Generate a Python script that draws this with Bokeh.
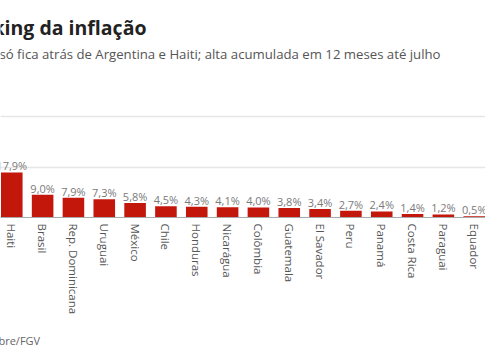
from bokeh.plotting import figure
from bokeh.models import ColumnDataSource, FactorRange, Range1d, Label, FixedTicker, Title
from bokeh.core.properties import value
from bokeh.embed import file_html
from bokeh.resources import INLINE

countries = ["Haiti", "Brasil", "Rep. Dominicana", "Uruguai", "México", "Chile",
             "Honduras", "Nicarágua", "Colômbia", "Guatemala", "El Savador", "Peru",
             "Panamá", "Costa Rica", "Paraguai", "Equador"]
inflation = [17.9, 9.0, 7.9, 7.3, 5.8, 4.5, 4.3, 4.1, 4.0, 3.8, 3.4, 2.7, 2.4, 1.4, 1.2, 0.5]
grid_ticks = [20, 40]
title_text = "Ranking da inflação"
subtitle_text = "Brasil só fica atrás de Argentina e Haiti; alta acumulada em 12 meses até julho"
source_text = "Fonte: Ibre/FGV"

labels = [f"{v:.1f}%".replace(".", ",") for v in inflation]
src = ColumnDataSource(dict(x=countries, top=inflation, label=labels))

x_range = FactorRange(factors=countries, range_padding=-0.134, range_padding_units="absolute")
p = figure(x_range=x_range, y_range=Range1d(0, 86.3), width=485, height=360,
           output_backend="svg", toolbar_location=None, y_axis_location=None,
           min_border_left=0, min_border_right=0, min_border_top=0, min_border_bottom=143,
           margin=0)
p.outline_line_color = None
p.background_fill_color = "white"
p.border_fill_color = "white"
p.xgrid.grid_line_color = None
p.ygrid.ticker = FixedTicker(ticks=grid_ticks)
p.ygrid.grid_line_color = "#e6e6e6"
p.ygrid.grid_line_width = 1.5

p.vbar(x="x", top="top", width=0.7, source=src, fill_color="#c4170c", line_color=None)
p.text(x="x", y="top", text="label", source=src, text_align="center",
       text_baseline="alphabetic", y_offset=-6.5, text_font=value("Open Sans"),
       text_font_size="11px", text_color="#7a7a7a")

ax = p.xaxis[0]
ax.axis_line_color = "#aaaaaa"
ax.axis_line_width = 1
ax.major_tick_line_color = None
ax.minor_tick_line_color = None
ax.major_tick_out = 0
ax.major_tick_in = 0
ax.major_label_standoff = 6
ax.major_label_orientation = "vertical"
ax.major_label_text_font = "Open Sans"
ax.major_label_text_font_size = "11.5px"
ax.major_label_text_color = "#555555"

p.add_layout(Label(x=146, y=190, x_units="screen", y_units="screen", text=title_text,
                   text_align="right", text_baseline="alphabetic", text_font="Open Sans",
                   text_font_style="bold", text_font_size="19.5px", text_color="#222222"))
p.add_layout(Label(x=440, y=164, x_units="screen", y_units="screen", text=subtitle_text,
                   text_align="right", text_baseline="alphabetic", text_font="Open Sans",
                   text_font_size="13.2px", text_color="#555555"))
p.add_layout(Title(text=source_text, align="left", offset=-40, standoff=26,
                   text_font="Open Sans", text_font_style="normal", text_font_size="11px",
                   text_color="#666666"), "below")

open("out.html", "w").write(file_html(p, INLINE))
